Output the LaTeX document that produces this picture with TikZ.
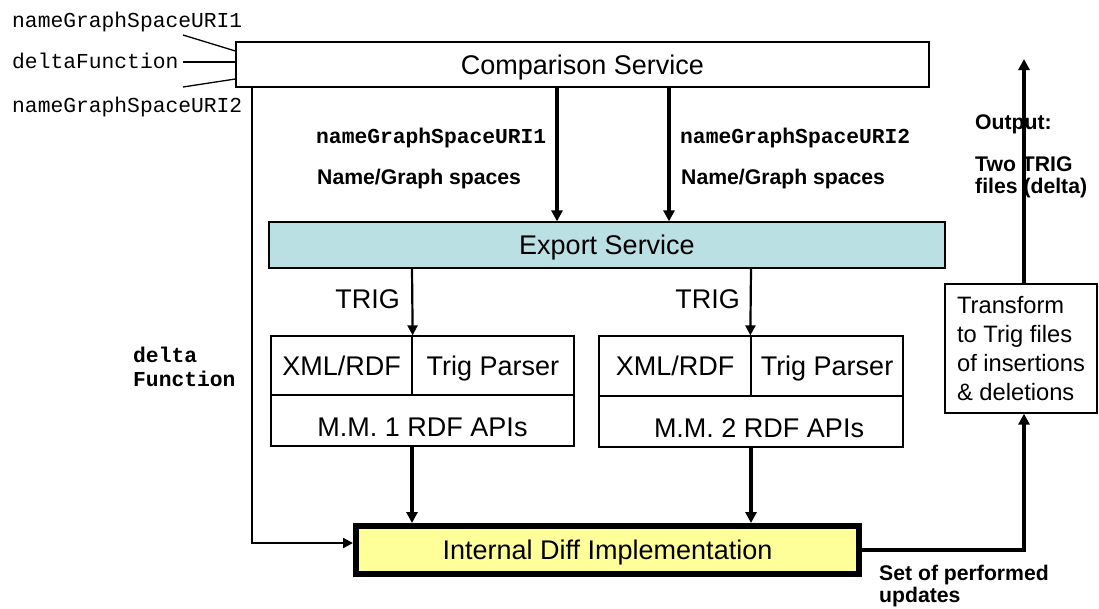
\documentclass[tikz,border=0pt]{standalone}
\usepackage{fontspec}
\setmainfont{Liberation Sans}
\setmonofont{Liberation Mono}
\usetikzlibrary{arrows.meta,calc}
\definecolor{expfill}{RGB}{187,224,227}
\definecolor{difffill}{RGB}{255,255,153}
\begin{document}
\begin{tikzpicture}[x=1pt,y=-1pt,
  box/.style={draw,line width=1.3pt,inner sep=0pt,text height=19.4pt,text depth=0pt,font=\fontsize{27}{32}\selectfont},
  lowtext/.style={text height=32.5pt},
  thickarr/.style={line width=4pt,-{Triangle[length=11pt,width=11pt]}},
  thinarr/.style={line width=2.2pt,-{Triangle[length=10pt,width=10pt]}},
  thinline/.style={line width=1.3pt},
  monolab/.style={inner sep=0pt,anchor=base west,font=\fontsize{21.3}{25}\selectfont\ttfamily},
  bmonolab/.style={inner sep=0pt,anchor=base west,font=\fontsize{21.3}{25}\selectfont\ttfamily\bfseries},
  boldlab/.style={inner sep=0pt,anchor=base west,font=\fontsize{21.2}{24}\selectfont\bfseries},
  triglab/.style={inner sep=0pt,anchor=base east,font=\fontsize{27}{32}\selectfont}]
\useasboundingbox (0,0) rectangle (1099,608);

% boxes
\node[box,minimum width=693pt,minimum height=45pt] (cmp) at (582.5,64.5) {Comparison Service};
\node[box,fill=expfill,minimum width=676pt,minimum height=46pt] (exp) at (607,245) {Export Service};

\node[box,minimum width=141pt,minimum height=59pt] (xml1) at (341.5,365.5) {XML/RDF};
\node[box,minimum width=162pt,minimum height=59pt] (trig1) at (493,365.5) {Trig Parser};
\node[box,lowtext,minimum width=303pt,minimum height=51pt] (mm1) at (422.5,420.5) {M.M. 1 RDF APIs};

\node[box,minimum width=152pt,minimum height=60pt] (xml2) at (675,366) {XML/RDF};
\node[box,minimum width=152pt,minimum height=60pt] (trig2) at (827,366) {Trig Parser};
\node[box,lowtext,minimum width=304pt,minimum height=51pt] (mm2) at (751,421.5) {\hspace*{16pt}M.M. 2 RDF APIs};

\node[box,line width=6pt,fill=difffill,minimum width=503pt,minimum height=48pt] (diff) at (607.5,550) {Internal Diff Implementation};

\node[draw,line width=1.3pt,inner sep=0pt,minimum width=152pt,minimum height=129pt,align=left,
  font=\fontsize{23.7}{29}\selectfont] (trans) at (1021,348.5)
  {Transform\\to Trig files\\of insertions\\\& deletions};

% coordinates
\coordinate (a1) at (557,0);
\coordinate (a2) at (669,0);
\coordinate (t1) at (412,0);
\coordinate (t2) at (751,0);
\coordinate (d1) at (252,0);
\coordinate (d2) at (0,543);
\coordinate (o1) at (1024,0);
\coordinate (outtop) at (1024,59);
\coordinate (i1) at (183,35);
\coordinate (i2) at (183,62);
\coordinate (i3) at (183,87);
\coordinate (j1) at (0,51);
\coordinate (j2) at (0,62);
\coordinate (j3) at (0,79);

% input lines
\draw[thinline] (i1) -- (cmp.west |- j1);
\draw[thinline] (i2) -- (cmp.west |- j2);
\draw[thinline] (i3) -- (cmp.west |- j3);

% connectors
\draw[thickarr] (cmp.south -| a1) -- (exp.north -| a1);
\draw[thickarr] (cmp.south -| a2) -- (exp.north -| a2);
\draw[thinarr] (exp.south -| t1) -- (xml1.north east);
\draw[thinarr] (exp.south -| t2) -- (trig2.north west);
\draw[thickarr] (mm1.south -| t1) -- (diff.north -| t1);
\draw[thickarr] (mm2.south -| t2) -- (diff.north -| t2);
\draw[thinarr] (cmp.south -| d1) |- (diff.west |- d2);
\draw[thickarr] (diff.east) -| (trans.south -| o1);
\draw[thickarr] (trans.north -| o1) -- (outtop);

% labels
\node[monolab] (l1) at (12,27) {nameGraphSpaceURI1};
\node[monolab] (l2) at (12,68) {deltaFunction};
\node[monolab] (l3) at (12,112) {nameGraphSpaceURI2};

\node[bmonolab] (b1) at (316,143) {nameGraphSpaceURI1};
\node[boldlab] (n1) at (317,184) {Name/Graph spaces};
\node[bmonolab] (b2) at (680,143) {nameGraphSpaceURI2};
\node[boldlab] (n2) at (681,184) {Name/Graph spaces};

\node[triglab] (tr1) at (400,308) {TRIG};
\node[triglab] (tr2) at (740,308) {TRIG};

\node[bmonolab] (df1) at (133,362) {delta};
\node[bmonolab] (df2) at (133,386) {Function};

\node[boldlab] (out1) at (975,129) {Output:};
\node[boldlab] (out2) at (975,171) {Two TRIG};
\node[boldlab] (out3) at (975,193) {files (delta)};

\node[boldlab] (s1) at (879,580) {Set of performed};
\node[boldlab] (s2) at (879,602) {updates};
\end{tikzpicture}
\end{document}
